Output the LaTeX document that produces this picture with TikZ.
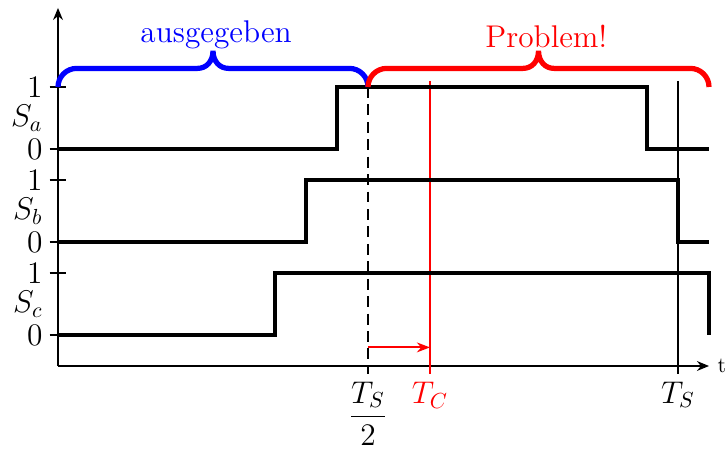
\documentclass[tikz,border=0pt]{standalone}
\usepackage{amsmath}
\usetikzlibrary{arrows.meta}
\tikzset{
  signal/.style={line width=1.8pt},
  axis/.style={line width=1.2pt,-{Stealth[length=5.5pt,width=4.5pt]}},
  brc/.style={line width=2.4pt},
  tick/.style={line width=0.6pt},
}
\begin{document}
\begin{tikzpicture}[x=0.5cm,y=0.5cm,font=\Large]
\useasboundingbox (-1.871,-2.774) rectangle (21.58,11.806);
% axes
\draw[axis] (0,0) -- (0,11.55);
\draw[axis] (0,0) -- (21,0) node[right,font=\normalsize] (t) {t};
% ticks and level labels
\foreach \lo/\mid/\hi/\s in {7/8/9/a,4/5/6/b,1/2/3/c}{
  \draw[tick] (-0.27,\lo) -- (0.27,\lo);
  \draw[tick] (-0.27,\hi) -- (0.27,\hi);
  \node[left] (z\s) at (-0.25,\lo) {0};
  \node[left] (o\s) at (-0.25,\hi) {1};
  \node[left] (S\s) at (-0.25,\mid) {$S_\s$};
}
% time marks
\coordinate (hs) at (10,0); \coordinate (tc) at (12,0); \coordinate (ts) at (20,0);
\draw[line width=0.6pt,dash pattern=on 5pt off 3pt] (10,9) -- (10,-0.25) node[below] (lhs) {$\dfrac{T_S}{2}$};
\draw[line width=1pt,red] (12,9.2) -- (12,-0.25) node[below] (ltc) {$T_C$};
\draw[line width=0.7pt] (20,9.2) -- (20,-0.25) node[below] (lts) {$T_S$};
\coordinate (a1) at (10,0.6); \coordinate (a2) at (12,0.6);
\draw[red,line width=1pt,-{Stealth[length=6pt,width=4.5pt]}] (a1) -- (a2);
% signals
\draw[signal] (0,7) -- (9,7) -- (9,9) -- (19,9) -- (19,7) -- (21,7);
\draw[signal] (0,4) -- (8,4) -- (8,6) -- (20,6) -- (20,4) -- (21,4);
\draw[signal] (0,1) -- (7,1) -- (7,3) -- (21,3) -- (21,1);
% braces
\foreach \a/\b/\c in {0/10/blue,10/21/red}{
  \pgfmathsetmacro\m{(\a+\b)/2}
  \draw[brc,\c] (\a,9) .. controls (\a,9.33) and (\a+0.27,9.6) .. (\a+0.6,9.6)
    -- (\m-0.5,9.6) .. controls (\m-0.22,9.6) and (\m,9.82) .. (\m,10.17)
    .. controls (\m,9.82) and (\m+0.22,9.6) .. (\m+0.5,9.6)
    -- (\b-0.6,9.6) .. controls (\b-0.27,9.6) and (\b,9.33) .. (\b,9);
}
\node[blue,anchor=base] (aus) at (5.1,10.42) {ausgegeben};
\node[red,anchor=base] (prob) at (15.75,10.26) {Problem!};
\end{tikzpicture}
\end{document}
